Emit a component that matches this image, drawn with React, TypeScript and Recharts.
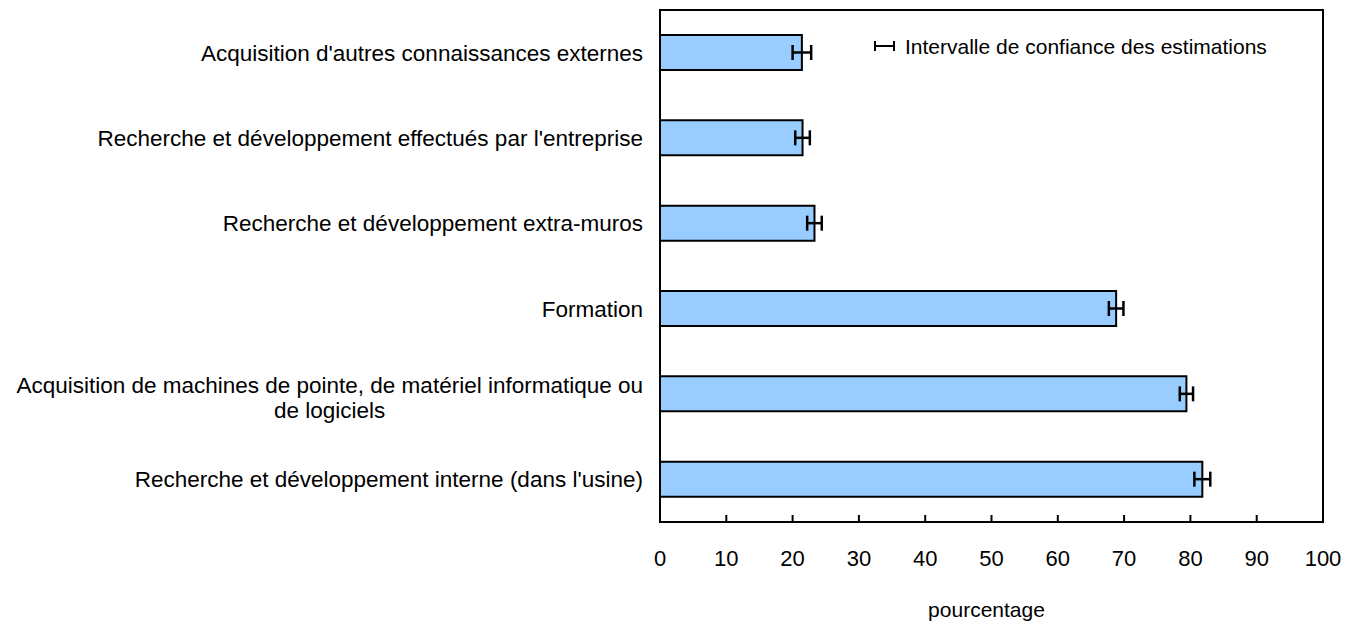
import { BarChart, Bar, XAxis, YAxis, ErrorBar, ReferenceArea, Legend } from "recharts";

const categories = [
  "Acquisition d'autres connaissances externes",
  "Recherche et développement effectués par l'entreprise",
  "Recherche et développement extra-muros",
  "Formation",
  "Acquisition de machines de pointe, de matériel informatique ou de logiciels",
  "Recherche et développement interne (dans l'usine)",
];
const values = [21.4, 21.5, 23.3, 68.8, 79.4, 81.8];
const errors = [1.4, 1.1, 1.1, 1.1, 1.0, 1.2];
const xTicks = [0, 10, 20, 30, 40, 50, 60, 70, 80, 90, 100];

const data = categories.map((name, i) => ({ name, value: values[i], err: errors[i] }));

const FONT = "'Liberation Sans', Arial, sans-serif";
const FS = 22.5;

let ctx: CanvasRenderingContext2D | null = null;
function measure(s: string) {
  if (!ctx) ctx = document.createElement("canvas").getContext("2d");
  if (!ctx) return s.length * FS * 0.5;
  ctx.font = `${FS}px ${FONT}`;
  return ctx.measureText(s).width;
}

function wrap(text: string, max: number) {
  const words = text.split(" ");
  const lines: string[] = [];
  let cur = "";
  for (const w of words) {
    const next = cur ? cur + " " + w : w;
    if (cur && measure(next) > max) {
      lines.push(cur);
      cur = w;
    } else cur = next;
  }
  if (cur) lines.push(cur);
  return lines;
}

function YTick({ x, y, payload }: any) {
  const lines = wrap(payload.value, 642);
  if (lines.length === 1) {
    return (
      <text x={x} y={y + 8} textAnchor="end" fontFamily={FONT} fontSize={FS} fill="#000">
        {lines[0]}
      </text>
    );
  }
  const w = Math.max(...lines.map(measure));
  const cx = x - w / 2;
  return (
    <text textAnchor="middle" fontFamily={FONT} fontSize={FS} fill="#000">
      {lines.map((l, i) => (
        <tspan key={i} x={cx} y={y + 11 + (i - (lines.length - 1) / 2) * 25}>{l}</tspan>
      ))}
    </text>
  );
}

function XTick({ x, y, payload }: any) {
  return (
    <g>
      <line x1={x} x2={x} y1={y} y2={y - 7} stroke="#000" strokeWidth={2} />
      <text x={x} y={y + 44} textAnchor="middle" fontFamily={FONT} fontSize={22} fill="#000">
        {payload.value}
      </text>
    </g>
  );
}

function LegendBox() {
  return (
    <svg width={420} height={32} style={{ display: "block" }}>
      <line x1={5} x2={24} y1={16} y2={16} stroke="#000" strokeWidth={2} />
      <line x1={5} x2={5} y1={11} y2={21} stroke="#000" strokeWidth={2} />
      <line x1={24} x2={24} y1={11} y2={21} stroke="#000" strokeWidth={2} />
      <text x={35} y={24} fontFamily={FONT} fontSize={21} fill="#000">
        Intervalle de confiance des estimations
      </text>
    </svg>
  );
}

export default function App() {
  return (
    <div style={{ position: "absolute", left: 0, top: 0, background: "#fff" }}>
      <BarChart
        width={1354}
        height={624}
        data={data}
        layout="vertical"
        margin={{ top: 10, right: 31, left: 0, bottom: 0 }}
      >
        <XAxis
          type="number"
          domain={[0, 100]}
          ticks={xTicks}
          interval={0}
          axisLine={false}
          tickLine={false}
          tickSize={0}
          tickMargin={0}
          height={102}
          tick={<XTick />}
          label={{
            value: "pourcentage",
            position: "insideBottom",
            offset: 7,
            dx: -5,
            fill: "#000",
            fontSize: 21,
            fontFamily: FONT,
          }}
        />
        <YAxis
          type="category"
          dataKey="name"
          width={660}
          axisLine={false}
          tickLine={false}
          tickSize={0}
          tickMargin={17}
          interval={0}
          tick={<YTick />}
        />
        <Legend
          layout="horizontal"
          verticalAlign="middle"
          content={<LegendBox />}
          wrapperStyle={{ left: 870, top: 30, width: 420 }}
        />
        <Bar
          dataKey="value"
          fill="#99ccff"
          stroke="#000"
          strokeWidth={2}
          barSize={35}
          isAnimationActive={false}
        >
          <ErrorBar dataKey="err" direction="x" width={7.5} stroke="#000" strokeWidth={2.5} />
        </Bar>
        <ReferenceArea x1={0} x2={100} fill="none" stroke="#000" strokeWidth={2} ifOverflow="visible" />
      </BarChart>
    </div>
  );
}
